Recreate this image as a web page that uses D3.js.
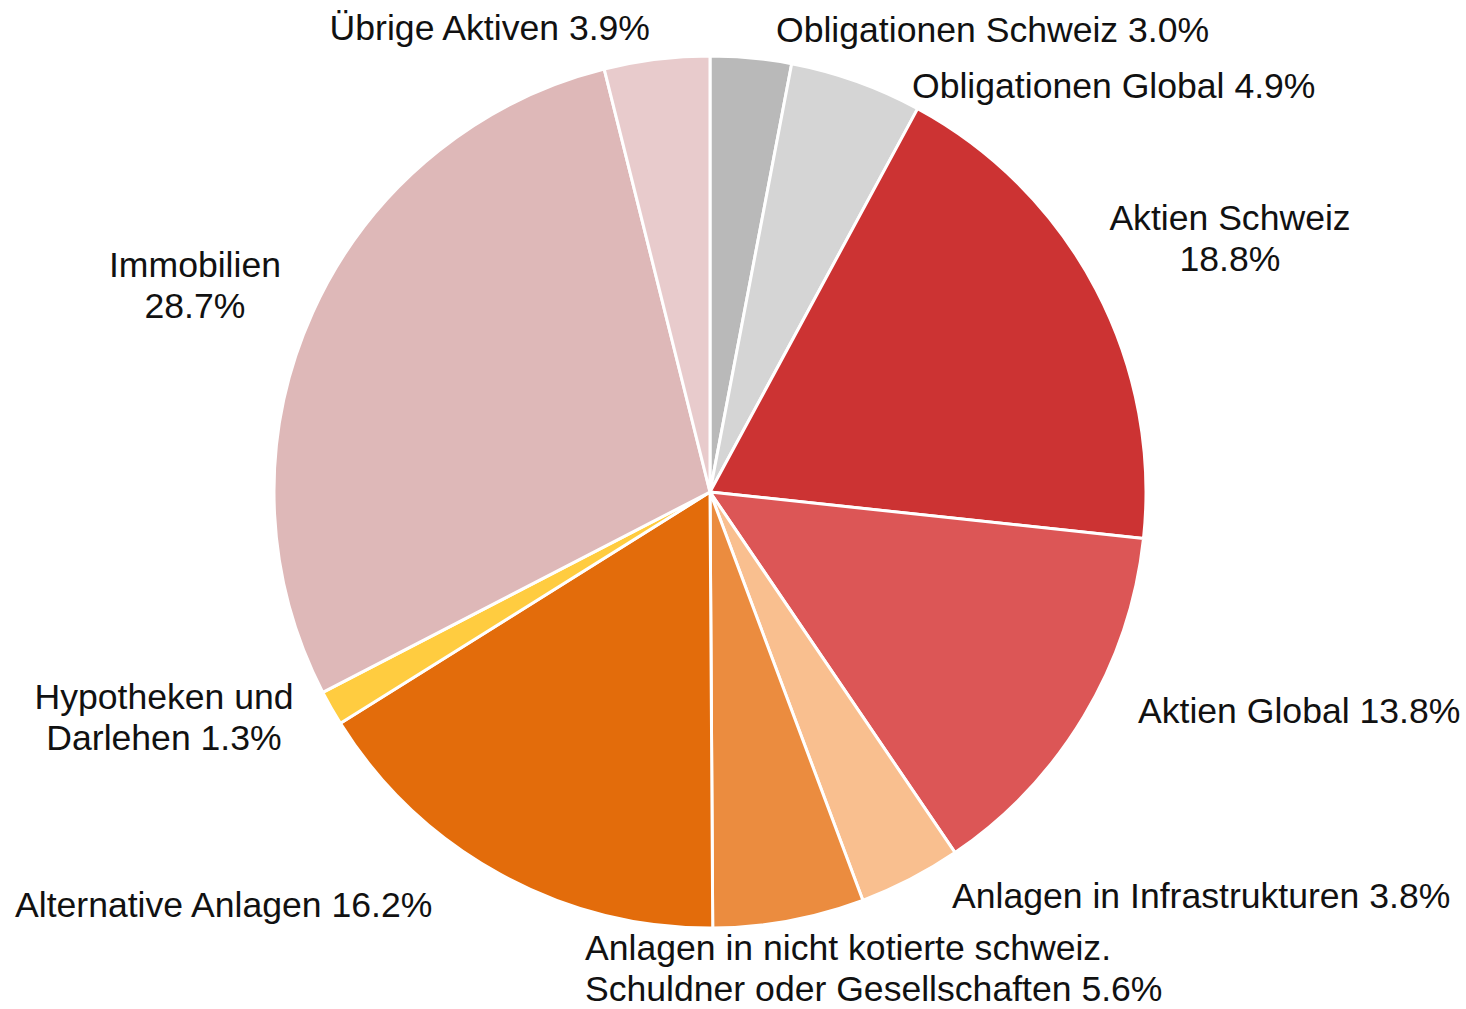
<!DOCTYPE html>
<html><head><meta charset="utf-8">
<script src="https://cdn.jsdelivr.net/npm/d3@7"></script>
<style>html,body{margin:0;padding:0;background:#fff;}svg{display:block;}</style>
</head><body>
<svg id="chart" width="1466" height="1009"></svg>
<script>
const categories = ["Obligationen Schweiz","Obligationen Global","Aktien Schweiz","Aktien Global","Anlagen in Infrastrukturen","Anlagen in nicht kotierte schweiz. Schuldner oder Gesellschaften","Alternative Anlagen","Hypotheken und Darlehen","Immobilien","Übrige Aktiven"];
const values = [3.0, 4.9, 18.8, 13.8, 3.8, 5.6, 16.2, 1.3, 28.7, 3.9];
const colors = ["#b9b9b9","#d5d5d5","#cc3333","#dc5656","#f9bf8f","#eb8c3f","#e36c0b","#ffcc40","#deb8b8","#e8cbcc"];
const labelLines = [
  ["Obligationen Schweiz 3.0%"],
  ["Obligationen Global 4.9%"],
  ["Aktien Schweiz","18.8%"],
  ["Aktien Global 13.8%"],
  ["Anlagen in Infrastrukturen 3.8%"],
  ["Anlagen in nicht kotierte schweiz.","Schuldner oder Gesellschaften 5.6%"],
  ["Alternative Anlagen 16.2%"],
  ["Hypotheken und","Darlehen 1.3%"],
  ["Immobilien","28.7%"],
  ["Übrige Aktiven 3.9%"]
];
// label layout (text anchor point, first baseline)
const labelLayout = [
  {x:776, y:42, a:"start"},
  {x:912, y:98, a:"start"},
  {x:1230, y:230, a:"middle"},
  {x:1138, y:723, a:"start"},
  {x:952, y:908, a:"start"},
  {x:585, y:960, a:"start"},
  {x:15, y:917, a:"start"},
  {x:164, y:709, a:"middle"},
  {x:195, y:277, a:"middle"},
  {x:650, y:40, a:"end"}
];

const svg = d3.select("#chart");
const cx = 710, cy = 492, R = 436;
const data = categories.map((c,i)=>({cat:c, value:values[i], i}));
const pie = d3.pie().value(d=>d.value).sort(null);
const arc = d3.arc().innerRadius(0).outerRadius(R);
const color = d3.scaleOrdinal().domain(categories).range(colors);

const g = svg.append("g").attr("transform",`translate(${cx},${cy})`);
g.selectAll("path").data(pie(data)).join("path")
  .attr("d",arc)
  .attr("fill",d=>color(d.data.cat))
  .attr("stroke","#fff")
  .attr("stroke-width",3)
  .attr("stroke-linejoin","round");

const lbl = svg.append("g")
  .attr("font-family","'Liberation Sans', Arial, sans-serif")
  .attr("font-size",35.6)
  .attr("fill","#111");
labelLines.forEach((lines,i)=>{
  const L = labelLayout[i];
  const t = lbl.append("text").attr("x",L.x).attr("y",L.y).attr("text-anchor",L.a);
  lines.forEach((s,j)=>{
    t.append("tspan").attr("x",L.x).attr("dy", j===0?0:41).text(s);
  });
});
</script>
</body></html>
